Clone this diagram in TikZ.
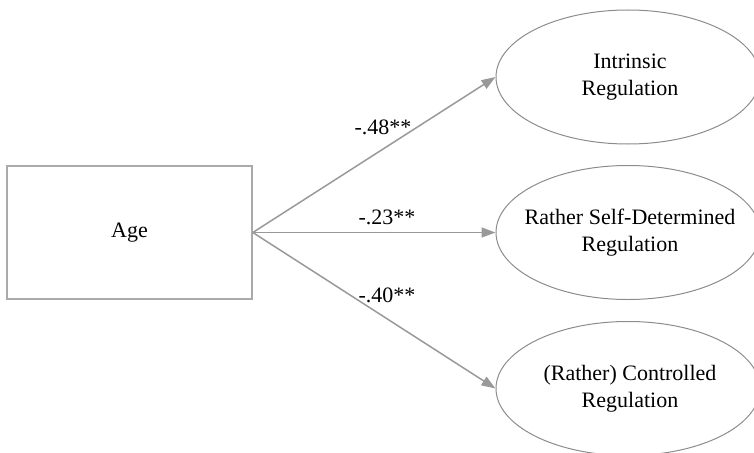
\documentclass[tikz,border=0pt]{standalone}
\usepackage{fontspec}
\setmainfont{Liberation Serif}
\usetikzlibrary{arrows.meta,shapes.geometric}
\definecolor{linegray}{HTML}{999999}
\definecolor{boxgray}{HTML}{AAAAAA}
\definecolor{ellgray}{HTML}{8C8C8C}
\begin{document}
\begin{tikzpicture}[x=1pt,y=-1pt,
  every node/.style={font=\fontsize{22}{27}\selectfont, text=black},
  agebox/.style={draw=boxgray, line width=1.6pt, minimum width=245pt, minimum height=133pt, inner sep=0pt},
  latent/.style={draw=ellgray, line width=1pt, ellipse, minimum width=264pt, minimum height=134pt, inner sep=0pt},
  ltext/.style={align=center, inner sep=0pt},
  path/.style={draw=linegray, line width=1.5pt, -{Triangle[length=14pt,width=10pt]}},
  coef/.style={inner sep=0pt}
]
\useasboundingbox (0,0) rectangle (754,452);
\node[agebox] (age) at (129.5,232.5) {Age};
\node[latent] (intr) at (628,77) {};
\node[latent] (self) at (628,232.5) {};
\node[latent] (ctrl) at (628,388.5) {};
\node[ltext] (intrT) at ([xshift=2pt]intr.center) {Intrinsic\\Regulation};
\node[ltext] (selfT) at ([xshift=2pt]self.center) {Rather Self-Determined\\Regulation};
\node[ltext] (ctrlT) at ([xshift=2pt]ctrl.center) {(Rather) Controlled\\Regulation};
\draw[path] (age.east) -- (intr.west);
\draw[path] (age.east) -- (self.west);
\draw[path] (age.east) -- (ctrl.west);
\node[coef] (c1) at (383,127) {-.48**};
\node[coef] (c2) at (387,217) {-.23**};
\node[coef] (c3) at (387,295) {-.40**};
\end{tikzpicture}
\end{document}
